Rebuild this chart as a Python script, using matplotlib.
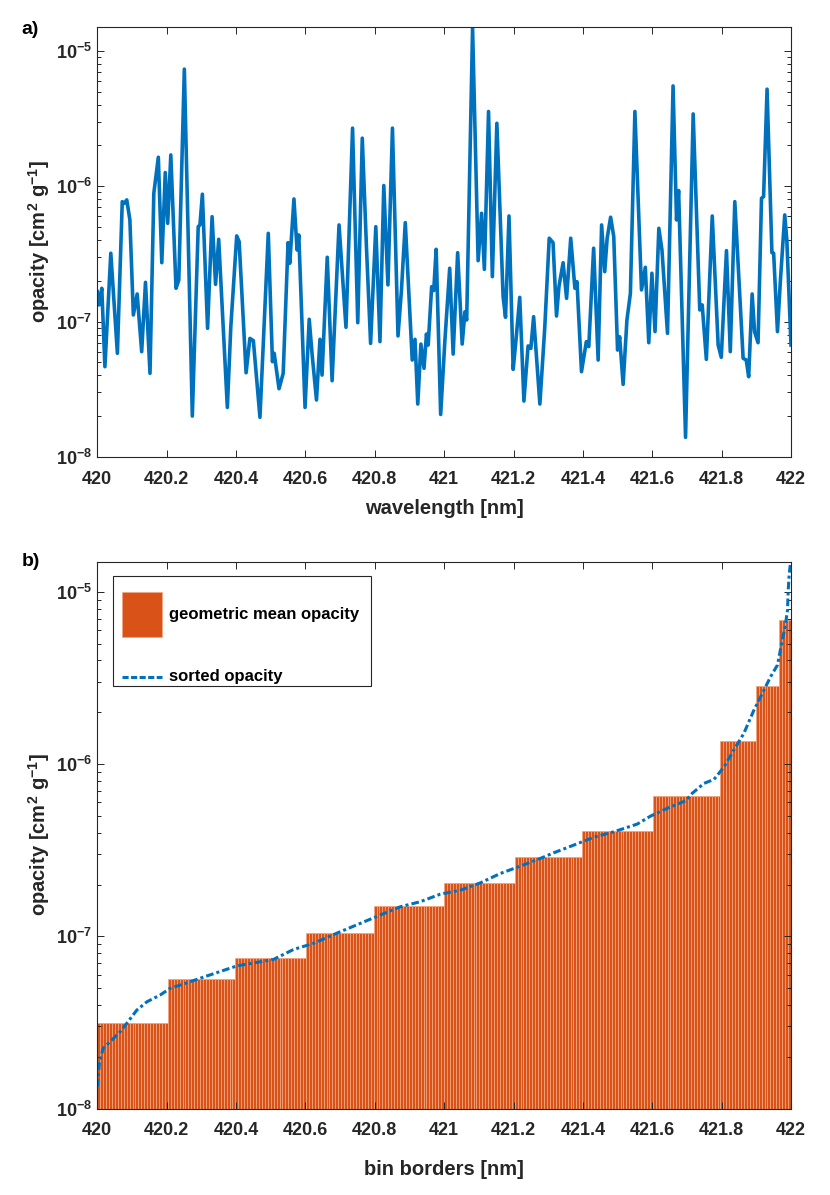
import matplotlib
matplotlib.use("Agg")
import matplotlib.pyplot as plt
import numpy as np
from matplotlib.patches import Rectangle
from matplotlib.ticker import FixedLocator, FuncFormatter, NullFormatter

# panel a: opacity spectrum (log10 of opacity)
wavelength = [
    420.000, 420.005, 420.013, 420.022, 420.039, 420.058, 420.072, 420.078, 420.085, 420.094,
    420.104, 420.115, 420.128, 420.139, 420.152, 420.163, 420.176, 420.186, 420.196, 420.203,
    420.212, 420.227, 420.235, 420.251, 420.274, 420.291, 420.296, 420.303, 420.318, 420.331,
    420.341, 420.350, 420.375, 420.385, 420.402, 420.409, 420.429, 420.440, 420.450, 420.469,
    420.493, 420.505, 420.510, 420.524, 420.536, 420.550, 420.555, 420.567, 420.576, 420.581,
    420.599, 420.611, 420.620, 420.632, 420.642, 420.648, 420.663, 420.677, 420.697, 420.717,
    420.736, 420.751, 420.764, 420.776, 420.788, 420.803, 420.815, 420.826, 420.838, 420.851,
    420.867, 420.877, 420.888, 420.908, 420.916, 420.924, 420.933, 420.942, 420.949, 420.954,
    420.964, 420.970, 420.977, 420.990, 421.002, 421.016, 421.026, 421.039, 421.052, 421.060,
    421.065, 421.082, 421.098, 421.108, 421.116, 421.128, 421.139, 421.152, 421.170, 421.177,
    421.187, 421.199, 421.207, 421.218, 421.230, 421.242, 421.250, 421.258, 421.276, 421.290,
    421.303, 421.314, 421.324, 421.331, 421.343, 421.353, 421.365, 421.377, 421.383, 421.396,
    421.410, 421.417, 421.431, 421.444, 421.454, 421.463, 421.470, 421.480, 421.489, 421.500,
    421.506, 421.516, 421.527, 421.537, 421.550, 421.569, 421.580, 421.590, 421.599, 421.608,
    421.619, 421.628, 421.644, 421.660, 421.670, 421.676, 421.696, 421.718, 421.737, 421.744,
    421.756, 421.773, 421.790, 421.799, 421.814, 421.825, 421.838, 421.862, 421.871, 421.878,
    421.888, 421.895, 421.905, 421.915, 421.921, 421.931, 421.945, 421.950, 421.961, 421.969,
    421.982, 421.988, 422.000,
]
opacity_log10 = [
    -6.779, -6.877, -6.754, -7.333, -6.495, -7.234, -6.114, -6.126, -6.101, -6.249,
    -6.951, -6.796, -7.222, -6.710, -7.382, -6.052, -5.786, -6.565, -5.899, -6.274,
    -5.769, -6.754, -6.693, -5.135, -7.698, -6.299, -6.286, -6.059, -7.050, -6.225,
    -6.725, -6.392, -7.634, -7.038, -6.367, -6.409, -7.378, -7.124, -7.141, -7.707,
    -6.348, -7.296, -7.234, -7.496, -7.382, -6.417, -6.569, -6.094, -6.471, -6.360,
    -7.634, -6.983, -7.259, -7.579, -7.131, -7.395, -6.525, -7.437, -6.286, -7.042,
    -5.571, -7.008, -5.645, -6.446, -7.161, -6.299, -7.148, -5.995, -6.729, -5.571,
    -7.106, -6.766, -6.269, -7.284, -7.131, -7.609, -7.166, -7.345, -7.092, -7.173,
    -6.742, -6.771, -6.466, -7.686, -7.148, -6.606, -7.240, -6.491, -7.166, -6.927,
    -6.988, -4.832, -6.550, -6.200, -6.614, -5.448, -6.668, -5.535, -6.816, -6.968,
    -6.220, -7.353, -7.141, -6.821, -7.587, -7.180, -7.198, -6.964, -7.609, -7.050,
    -6.384, -6.417, -6.959, -6.742, -6.565, -6.828, -6.384, -6.754, -6.705, -7.370,
    -7.148, -7.185, -6.458, -7.284, -6.286, -6.631, -6.384, -6.229, -6.372, -7.210,
    -7.112, -7.464, -6.988, -6.791, -5.448, -6.766, -6.599, -7.156, -6.643, -7.074,
    -6.311, -6.471, -7.087, -5.259, -6.249, -6.032, -7.855, -5.466, -6.914, -6.877,
    -7.279, -6.220, -7.173, -7.264, -6.476, -7.222, -6.114, -7.271, -7.284, -7.407,
    -6.796, -7.074, -7.156, -6.089, -6.077, -5.283, -6.491, -6.495, -7.074, -6.717,
    -6.212, -6.397, -7.173,
]

# panel b: bins and their geometric mean opacity
bin_edges = [420.0, 420.2, 420.4, 420.6, 420.8, 421.0, 421.2, 421.4, 421.6, 421.8, 421.9, 421.97, 422.0]
bin_mean = [3.13e-8, 5.68e-8, 7.48e-8, 1.05e-7, 1.50e-7, 2.05e-7, 2.90e-7, 4.08e-7, 6.50e-7,
            1.36e-6, 2.86e-6, 6.90e-6]

# panel b: sorted opacity curve
sorted_wl = [
    420.000, 420.006, 420.017, 420.037, 420.066, 420.085, 420.114, 420.143, 420.181, 420.210,
    420.239, 420.316, 420.402, 420.508, 420.566, 420.623, 420.696, 420.758, 420.816, 420.874,
    420.931, 420.989, 421.047, 421.105, 421.162, 421.220, 421.278, 421.316, 421.374, 421.431,
    421.489, 421.557, 421.595, 421.643, 421.696, 421.715, 421.749, 421.778, 421.807, 421.835,
    421.864, 421.893, 421.922, 421.941, 421.961, 421.975, 421.983, 421.990, 421.992, 421.995,
    421.999,
]
sorted_log10 = [
    -7.873, -7.737, -7.650, -7.612, -7.554, -7.505, -7.428, -7.380, -7.341, -7.302,
    -7.283, -7.230, -7.172, -7.134, -7.076, -7.041, -6.977, -6.925, -6.876, -6.828,
    -6.799, -6.755, -6.732, -6.689, -6.635, -6.592, -6.547, -6.515, -6.470, -6.425,
    -6.393, -6.348, -6.302, -6.257, -6.213, -6.170, -6.112, -6.089, -6.016, -5.919,
    -5.822, -5.687, -5.571, -5.493, -5.425, -5.280, -5.203, -5.106, -4.990, -4.893,
    -4.826,
]

xticks = [420, 420.2, 420.4, 420.6, 420.8, 421, 421.2, 421.4, 421.6, 421.8, 422]
legend_labels = ['geometric mean opacity', 'sorted opacity']

plt.rcParams['font.family'] = ['Liberation Sans', 'DejaVu Sans']
plt.rcParams['font.weight'] = 'bold'
plt.rcParams['axes.labelweight'] = 'bold'
plt.rcParams['mathtext.fontset'] = 'custom'
plt.rcParams['mathtext.rm'] = 'Liberation Sans'
plt.rcParams['mathtext.bf'] = 'Liberation Sans:bold'
plt.rcParams['mathtext.default'] = 'bf'

dark = '#262626'
blue = '#0072BD'
orange = '#D95319'
light = '#F2A680'
dashdot = (0, (2.5, 1.0, 1.0, 1.0))

fig = plt.figure(figsize=(8.3, 11.95), dpi=100)
ax1 = fig.add_axes([0.1172, 0.6176, 0.8358, 0.3598])
ax2 = fig.add_axes([0.1172, 0.0723, 0.8358, 0.4578])


def style(ax, xlabel, pad):
    ax.set_yscale('log')
    ax.set_xlim(420, 422)
    ax.set_ylim(1e-8, 1.5e-5)
    ax.xaxis.set_major_locator(FixedLocator(xticks))
    ax.xaxis.set_major_formatter(FuncFormatter(lambda v, p: f'{v:g}'))
    ax.yaxis.set_major_formatter(FuncFormatter(lambda v, p: r'$10^{%d}$' % round(np.log10(v))))
    ax.yaxis.set_minor_formatter(NullFormatter())
    ax.tick_params(which='both', direction='in', top=True, right=True, colors=dark,
                   labelsize=13, width=0.7)
    ax.tick_params(which='major', length=5)
    ax.tick_params(which='minor', length=3)
    ax.tick_params(axis='x', pad=10)
    for s in ax.spines.values():
        s.set_color(dark)
        s.set_linewidth(0.8)
    ax.set_xlabel(xlabel, fontsize=14.5, color=dark, labelpad=pad)
    ax.set_ylabel(r'opacity [cm$^{2}$ g$^{-1}$]', fontsize=14.5, color=dark)
    ax.yaxis.set_label_coords(-0.065, 0.5)


# a) spectrum
ax1.plot(wavelength, 10 ** np.array(opacity_log10), color=blue, lw=2.6,
         solid_joinstyle='round')
style(ax1, 'wavelength [nm]', 8)

# b) bins drawn as many thin bars, like the original
step = 2 / 236
centers = np.arange(420 + step / 2, 422, step)
idx = np.clip(np.searchsorted(bin_edges, centers, side='right') - 1, 0, len(bin_mean) - 1)
heights = np.array(bin_mean)[idx]
ax2.bar(centers, heights - 1e-9, bottom=1e-9, width=step, color=orange,
        edgecolor=light, linewidth=0.55)
ax2.plot(sorted_wl, 10 ** np.array(sorted_log10), color=blue, lw=2.2, linestyle=dashdot)
style(ax2, 'bin borders [nm]', 15)

# legend box drawn by hand to match the original proportions
tr = ax2.transAxes
ax2.add_patch(Rectangle((0.0226, 0.7725), 0.3714, 0.2015, transform=tr, facecolor='white',
                        edgecolor=dark, lw=0.8, zorder=5))
ax2.add_patch(Rectangle((0.0356, 0.862), 0.0577, 0.082, transform=tr, facecolor=orange,
                        edgecolor=light, lw=0.5, zorder=6))
ax2.plot([0.0356, 0.0933], [0.789, 0.789], transform=tr, color=blue, lw=2.2,
         linestyle=(0, (2.0, 0.8)), zorder=6)
ax2.text(0.104, 0.904, legend_labels[0], transform=tr, fontsize=12, va='center', zorder=7)
ax2.text(0.104, 0.789, legend_labels[1], transform=tr, fontsize=12, va='center', zorder=7)

fig.text(0.026, 1 - 30 / 1195, 'a)', fontsize=14, va='center', color='black')
fig.text(0.026, 1 - 561 / 1195, 'b)', fontsize=14, va='center', color='black')

fig.savefig('out.png', dpi=100)
